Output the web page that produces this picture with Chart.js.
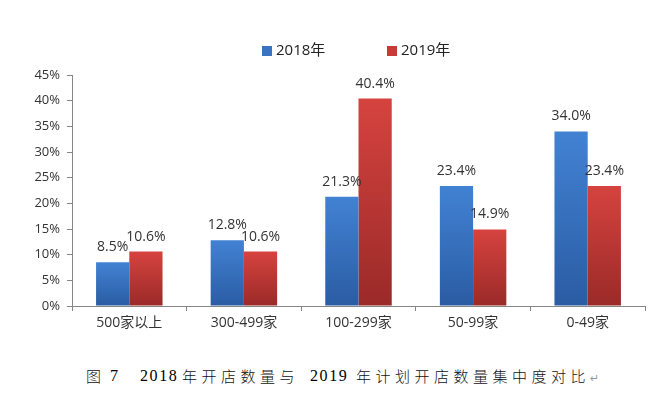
<!DOCTYPE html>
<html>
<head>
<meta charset="utf-8">
<script src="https://cdn.jsdelivr.net/npm/chart.js@4"></script>
<style>
  html, body { margin: 0; padding: 0; background: #fff; }
  #wrap { position: relative; width: 657px; height: 395px; }
  #box { position: absolute; left: 0; top: 0; width: 657px; height: 350px; }
  #caption { position: absolute; left: 0; top: 366px; width: 657px; height: 22px; color: #000; }
  #caption span { position: absolute; top: 0; white-space: nowrap; line-height: 20px; }
  #caption .cjk { font-family: "Noto Sans CJK SC", sans-serif; font-weight: 300; font-size: 15px; letter-spacing: 4.5px; color: #111; }
  #caption .num { font-family: "Liberation Serif", serif; font-size: 16px; letter-spacing: 1.6px; }
  #caption .mark { color: #999; font-family: "DejaVu Sans", sans-serif; font-size: 11px; top: 3px; }
</style>
</head>
<body>
<div id="wrap">
  <div id="box"><canvas id="chart"></canvas></div>
  <div id="caption">
    <span class="cjk" style="left:86px">图</span>
    <span class="num" style="left:110px">7</span>
    <span class="num" style="left:140px">2018</span>
    <span class="cjk" style="left:182px">年开店数量与</span>
    <span class="num" style="left:310px">2019</span>
    <span class="cjk" style="left:356px">年计划开店数量集中度对比</span>
    <span class="mark" style="left:590px">↵</span>
  </div>
</div>
<script>
const categories = ['500家以上', '300-499家', '100-299家', '50-99家', '0-49家'];
const seriesNames = ['2018年', '2019年'];
const values2018 = [8.5, 12.8, 21.3, 23.4, 34.0];
const values2019 = [10.6, 10.6, 40.4, 14.9, 23.4];
const yTicks = [0, 5, 10, 15, 20, 25, 30, 35, 40, 45];

const FONT = '"Open Sans", "Noto Sans CJK SC", sans-serif';
const palette = [
    { top: '#4282d3', bottom: '#2a5ca3', legend: '#3a73c0' },
    { top: '#d6433f', bottom: '#9a2a28', legend: '#c83a37' }
];

function barFill(ctx) {
    const chart = ctx.chart;
    const c = palette[ctx.datasetIndex];
    if (!chart.chartArea || ctx.raw == null) return c.legend;
    const y = chart.scales.y;
    const top = y.getPixelForValue(ctx.raw);
    const bottom = y.getPixelForValue(0);
    if (!isFinite(top) || bottom - top < 1) return c.legend;
    const g = chart.ctx.createLinearGradient(0, top, 0, bottom);
    g.addColorStop(0, c.top);
    g.addColorStop(1, c.bottom);
    return g;
}

// legend and value labels drawn from the dataset info
const extras = {
    id: 'extras',
    afterDatasetsDraw(chart) {
        const ctx = chart.ctx;
        ctx.save();
        ctx.font = '14px ' + FONT;
        ctx.fillStyle = '#333';
        ctx.textAlign = 'center';
        ctx.textBaseline = 'middle';
        chart.data.datasets.forEach((ds, i) => {
            chart.getDatasetMeta(i).data.forEach((bar, j) => {
                ctx.fillText(ds.data[j].toFixed(1) + '%', bar.x, bar.y - 15);
            });
        });
        // legend
        const legendX = [262, 387];
        ctx.font = '15px ' + FONT;
        ctx.textAlign = 'left';
        chart.data.datasets.forEach((ds, i) => {
            ctx.fillStyle = palette[i].legend;
            ctx.fillRect(legendX[i], 46, 10, 10);
            ctx.fillStyle = '#222';
            ctx.fillText(ds.label, legendX[i] + 14, 51);
        });
        ctx.restore();
    }
};

new Chart(document.getElementById('chart'), {
    type: 'bar',
    data: {
        labels: categories,
        datasets: [
            { label: seriesNames[0], data: values2018, backgroundColor: barFill },
            { label: seriesNames[1], data: values2019, backgroundColor: barFill }
        ]
    },
    options: {
        responsive: true,
        maintainAspectRatio: false,
        animation: false,
        layout: { padding: { top: 75, right: 12, left: 0, bottom: 0 } },
        datasets: { bar: { categoryPercentage: 0.58, barPercentage: 1 } },
        plugins: { legend: { display: false }, tooltip: { enabled: false } },
        scales: {
            x: {
                afterFit: s => { s.height = 44; },
                grid: { display: true, drawOnChartArea: false, tickLength: 5, color: '#868686', offset: true },
                border: { color: '#868686' },
                ticks: { color: '#333', font: { size: 14, family: FONT }, padding: 4 }
            },
            y: {
                min: 0,
                max: 45,
                afterFit: s => { s.width = 72; },
                afterBuildTicks: s => { s.ticks = yTicks.map(v => ({ value: v })); },
                grid: { display: true, drawOnChartArea: false, tickLength: 5, color: '#868686' },
                border: { color: '#868686' },
                ticks: { color: '#333', font: { size: 13, family: FONT }, padding: 7, callback: v => v + '%' }
            }
        }
    },
    plugins: [extras]
});
</script>
</body>
</html>
